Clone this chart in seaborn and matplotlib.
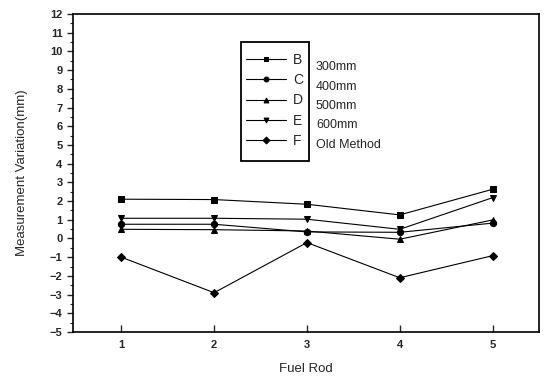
import pandas as pd
import matplotlib.pyplot as plt
import seaborn as sns
from matplotlib.ticker import AutoMinorLocator
from matplotlib.patches import Rectangle

# Dados
fuel_rod = [1, 2, 3, 4, 5]
series_names = ["B", "C", "D", "E", "F"]
series_desc = ["300mm", "400mm", "500mm", "600mm", "Old Method"]
val_b = [2.1, 2.08, 1.83, 1.26, 2.63]
val_c = [0.76, 0.76, 0.35, 0.33, 0.82]
val_d = [0.49, 0.47, 0.40, -0.04, 0.99]
val_e = [1.08, 1.08, 1.03, 0.49, 2.18]
val_f = [-1.0, -2.9, -0.22, -2.1, -0.92]
y_ticks = list(range(-5, 13))

sns.set_style("ticks")
plt.rcParams["font.family"] = ["Liberation Sans", "DejaVu Sans"]

df = pd.DataFrame({
    "rod": fuel_rod * 5,
    "val": val_b + val_c + val_d + val_e + val_f,
    "serie": [s for s in series_names for _ in fuel_rod],
})

fig = plt.figure(figsize=(5.44, 3.77), dpi=100)
ax = fig.add_axes([73 / 544, 45 / 377, (539 - 73) / 544, (332 - 14) / 377])

markers = {"B": "s", "C": "o", "D": "^", "E": "v", "F": "D"}
sns.lineplot(data=df, x="rod", y="val", hue="serie", style="serie",
             markers=markers, dashes=False, palette=["black"] * 5,
             linewidth=0.8, markersize=4.5, markeredgecolor="black", ax=ax)

ax.set_xlim(0.48, 5.5)
ax.set_ylim(-5, 12)
ax.set_xticks(fuel_rod)
ax.set_yticks(y_ticks)
ax.yaxis.set_minor_locator(AutoMinorLocator(2))
ax.tick_params(axis="x", direction="in", length=5, width=1, labelsize=8, pad=6)
ax.tick_params(axis="y", direction="out", length=4, width=1, labelsize=8)
ax.tick_params(axis="y", which="minor", direction="out", length=2.5, width=0.8)
for lab in ax.get_xticklabels() + ax.get_yticklabels():
    lab.set_fontweight("bold")
for sp in ax.spines.values():
    sp.set_visible(True)
    sp.set_linewidth(1.2)
    sp.set_color("black")

ax.set_xlabel("Fuel Rod", fontsize=9.5, labelpad=9)
ax.set_ylabel("Measurement Variation(mm)", fontsize=9.5, labelpad=16)

# Legenda (sem moldura; a caixa é desenhada à parte)
handles, labels = ax.get_legend_handles_labels()
for h in handles:
    h.set_markersize(3.5)
leg = ax.legend(handles, series_names, loc="center left",
                bbox_to_anchor=(246 / 544, 1 - 100.5 / 377), bbox_transform=fig.transFigure,
                borderaxespad=0, frameon=False, fontsize=10,
                handlelength=2.9, labelspacing=0.45, handletextpad=0.5,
                markerfirst=True, borderpad=0)
fig.add_artist(Rectangle((241 / 544, 1 - 161 / 377), 68 / 544, 119 / 377,
                         transform=fig.transFigure, fill=False,
                         edgecolor="black", linewidth=1.3))

for i, desc in enumerate(series_desc):
    fig.text(316 / 544, 1 - (67 + i * 19.5) / 377, desc, fontsize=9,
             va="center", ha="left")

plt.savefig("out.png", dpi=100)
plt.close()
